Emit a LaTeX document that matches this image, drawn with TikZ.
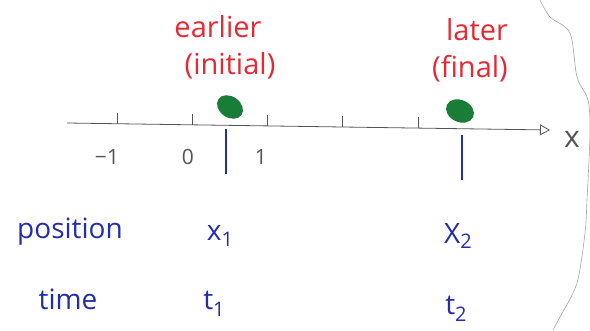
\documentclass[tikz,border=0pt]{standalone}
\usepackage{fontspec}
\setmainfont{Open Sans}
\usetikzlibrary{arrows.meta}
\definecolor{inkred}{RGB}{232,40,50}
\definecolor{inkblue}{RGB}{35,45,170}
\definecolor{inkgreen}{RGB}{25,125,55}
\definecolor{inkgray}{RGB}{85,85,85}
\begin{document}
\begin{tikzpicture}[x=1pt,y=-1pt,
  redlab/.style={text=inkred,font=\fontsize{29}{31}\selectfont,inner sep=0pt},
  bluelab/.style={text=inkblue,font=\fontsize{28}{30}\selectfont,inner sep=0pt},
  ticklab/.style={text=inkgray,font=\fontsize{21}{23}\selectfont,inner sep=0pt},
  tickmark/.style={draw=inkgray,line width=0.9pt},
  marker/.style={draw=inkblue,line width=1.3pt},
  dotfill/.style={fill=inkgreen},
  edgeline/.style={draw=gray!70,line width=0.6pt}
]
\useasboundingbox (0,0) rectangle (590,330);
% axis
\coordinate (axs) at (67,123);
\coordinate (axe) at (550,130);
\draw[inkgray,line width=0.8pt,-{Triangle[open,length=10pt,width=11pt]}] (axs) -- (axe);
\node[ticklab,font=\fontsize{30}{32}\selectfont] (xlab) at (572,139) {x};
% ticks
\foreach \tx/\ty in {117/123.7,192/124.8,267/125.9,342/127,418/128.1}
  \draw[tickmark] (\tx,\ty-11) -- (\tx,\ty);
\node[ticklab] (tm1) at (107,157) {−1};
\node[ticklab] (t0) at (188,157) {0};
\node[ticklab] (t1) at (261,157) {1};
% markers
\draw[marker] (226,129) -- (226,174);
\draw[marker] (462,135) -- (462,180);
% dots
\fill[dotfill] (230,107) ellipse [x radius=14, y radius=10.5, rotate=-35];
\fill[dotfill] (460,111) ellipse [x radius=14.5, y radius=11, rotate=-25];
% red labels
\node[redlab] (earlier) at (218,27) {earlier};
\node[redlab] (initial) at (230,66) {(initial)};
\node[redlab] (later) at (477,30) {later};
\node[redlab] (final) at (470,69) {(final)};
% blue labels
\node[bluelab] (pos) at (70,232) {position};
\node[bluelab] (x1) at (220,236) {x\raisebox{-0.35ex}{\fontsize{20}{22}\selectfont 1}};
\node[bluelab] (x2) at (458,236) {X\raisebox{-0.35ex}{\fontsize{20}{22}\selectfont 2}};
\node[bluelab] (time) at (68,299) {time};
\node[bluelab] (tt1) at (214,304) {t\raisebox{-0.45ex}{\fontsize{20}{22}\selectfont 1}};
\node[bluelab] (tt2) at (456,309) {t\raisebox{-0.45ex}{\fontsize{20}{22}\selectfont 2}};
% right torn edge
\draw[edgeline] plot[smooth] coordinates {(540,0) (550,17) (570,33) (577,77) (588,100) (590,133) (587,200) (585,233) (577,283) (560,317) (553,330)};
\end{tikzpicture}
\end{document}
